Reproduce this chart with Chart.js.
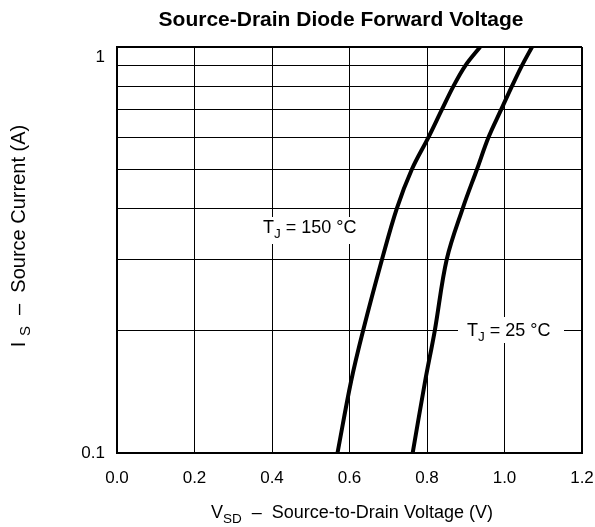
<!DOCTYPE html>
<html>
<head>
<meta charset="utf-8">
<script src="https://cdn.jsdelivr.net/npm/chart.js@4/dist/chart.umd.min.js"></script>
<style>
  html, body { margin: 0; padding: 0; background: #fff; }
  canvas { display: block; }
</style>
</head>
<body>
<canvas id="chart" width="595" height="527"></canvas>
<script>
//--Datos-------------------------------------------------
var currentIS = [0.1, 0.15, 0.2, 0.3, 0.4, 0.5, 0.6, 0.7, 0.8, 0.9, 1.0];
var vsd150C   = [0.569, 0.604, 0.635, 0.684, 0.722, 0.761, 0.804, 0.838, 0.868, 0.899, 0.937];
var vsd25C    = [0.763, 0.795, 0.820, 0.851, 0.892, 0.929, 0.959, 0.991, 1.019, 1.045, 1.071];

var xTicks = [0, 0.2, 0.4, 0.6, 0.8, 1.0, 1.2];
var yTicks = [0.1, 0.2, 0.3, 0.4, 0.5, 0.6, 0.7, 0.8, 0.9, 1];
var yTickLabels = ['0.1', '1'];

var FONT = '"Liberation Sans", Arial, Helvetica, sans-serif';

function toPoints(xs, ys) {
    return xs.map(function (v, i) { return { x: v, y: ys[i] }; });
}

// texto con subindice: partes [[texto, sub?], ...]
function drawRich(ctx, parts, x, y, size, align) {
    var total = 0;
    parts.forEach(function (p) {
        ctx.font = (p[1] ? size * 0.75 : size) + 'px ' + FONT;
        total += ctx.measureText(p[0]).width;
    });
    var cx = align === 'center' ? x - total / 2 : x;
    ctx.textAlign = 'left';
    ctx.textBaseline = 'alphabetic';
    parts.forEach(function (p) {
        ctx.font = (p[1] ? size * 0.75 : size) + 'px ' + FONT;
        ctx.fillText(p[0], cx, p[1] ? y + size * 0.25 : y);
        cx += ctx.measureText(p[0]).width;
    });
}

//--Plugin: titulos y etiquetas----------------------------
var labelsPlugin = {
    id: 'labels',
    beforeDatasetsDraw: function (chart) {
        var ctx = chart.ctx;
        ctx.save();
        // cajas blancas de las etiquetas
        ctx.fillStyle = '#fff';
        ctx.fillRect(258, 217, 104, 27);
        ctx.fillRect(458, 317, 106, 26);
        ctx.fillStyle = '#000';
        drawRich(ctx, [['T', false], ['J', true], [' = 150 \u00B0C', false]], 263, 233, 18, 'left');
        drawRich(ctx, [['T', false], ['J', true], [' = 25 \u00B0C', false]], 467, 336, 18, 'left');
        ctx.restore();
    },
    afterDraw: function (chart) {
        var ctx = chart.ctx;
        ctx.save();
        ctx.fillStyle = '#000';
        ctx.font = 'bold 21px ' + FONT;
        ctx.textAlign = 'center';
        ctx.textBaseline = 'alphabetic';
        ctx.fillText('Source-Drain Diode Forward Voltage', 341, 26);

        drawRich(ctx, [['V', false], ['SD', true], ['  \u2013  Source-to-Drain Voltage (V)', false]], 352, 518, 18, 'center');

        ctx.translate(25, 236);
        ctx.rotate(-Math.PI / 2);
        drawRich(ctx, [['I ', false], ['S', true], ['  \u2013  Source Current (A)', false]], 0, 0, 20, 'center');
        ctx.restore();
    }
};

var lineStyle = {
    borderColor: '#000',
    backgroundColor: '#000',
    borderWidth: 4,
    pointRadius: 0,
    fill: false,
    tension: 0.35
};

var ctx = document.getElementById('chart').getContext('2d');
var myChart = new Chart(ctx, {
    type: 'line',
    data: {
        datasets: [
            Object.assign({ label: 'TJ = 150°C', data: toPoints(vsd150C, currentIS) }, lineStyle),
            Object.assign({ label: 'TJ = 25°C', data: toPoints(vsd25C, currentIS) }, lineStyle)
        ]
    },
    options: {
        responsive: false,
        animation: false,
        devicePixelRatio: 1,
        layout: { padding: { left: 0, top: 47, right: 13, bottom: 0 } },
        plugins: {
            legend: { display: false },
            title: { display: false },
            tooltip: { enabled: false }
        },
        scales: {
            x: {
                type: 'linear',
                min: 0,
                max: 1.2,
                afterBuildTicks: function (scale) {
                    scale.ticks = xTicks.map(function (v) { return { value: v }; });
                },
                afterFit: function (scale) {
                    scale.height = 74;
                    scale.paddingLeft = 0;
                    scale.paddingRight = 0;
                },
                ticks: {
                    color: '#000',
                    font: { family: FONT, size: 17 },
                    padding: 15,
                    maxRotation: 0,
                    callback: function (v) { return Number(v).toFixed(1); }
                },
                grid: {
                    color: '#000',
                    drawTicks: false,
                    lineWidth: function (c) { return c.tick && c.tick.value >= 1.2 ? 2 : 1; }
                },
                border: { display: true, color: '#000', width: 2 }
            },
            y: {
                type: 'logarithmic',
                min: 0.1,
                max: 1,
                afterBuildTicks: function (scale) {
                    scale.ticks = yTicks.map(function (v) { return { value: v }; });
                },
                afterFit: function (scale) { scale.width = 117; },
                ticks: {
                    color: '#000',
                    font: { family: FONT, size: 17 },
                    padding: 12,
                    autoSkip: false,
                    callback: function (v) {
                        var s = String(Math.round(v * 10) / 10);
                        if (yTickLabels.indexOf(s) < 0) return '';
                        // el "1" va un poco por debajo de la linea
                        return s === '1' ? ['', s] : s;
                    }
                },
                grid: {
                    color: '#000',
                    drawTicks: false,
                    lineWidth: function (c) { return c.tick && c.tick.value >= 1 ? 2 : 1; }
                },
                border: { display: true, color: '#000', width: 2 }
            }
        }
    },
    plugins: [labelsPlugin]
});
</script>
</body>
</html>
